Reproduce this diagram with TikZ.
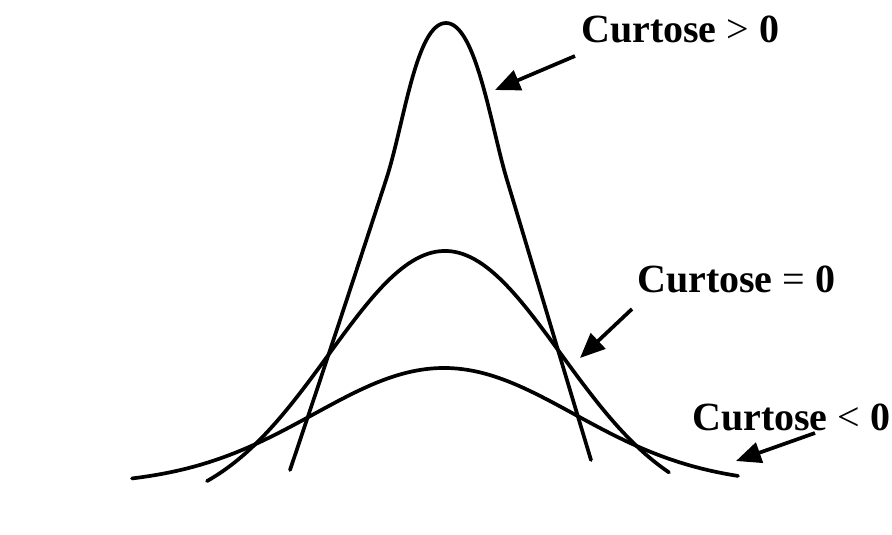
\documentclass[tikz,border=0pt]{standalone}
\usepackage{fontspec}
\setmainfont{Liberation Serif}
\usetikzlibrary{arrows.meta}
\begin{document}
\begin{tikzpicture}[x=1pt,y=-1pt,
  curve/.style={line width=3.7pt,line cap=round,line join=round},
  pointer/.style={line width=3.7pt,-{Triangle[length=25pt,width=21pt]}},
  lbl/.style={anchor=base west,inner sep=0pt,font=\fontsize{40}{44}\selectfont\bfseries}]
\useasboundingbox (0,0) rectangle (892,535);
% tall curve (kurtosis > 0)
\coordinate (tl) at (290,470);
\coordinate (tlm) at (386,180);
\coordinate (tp) at (446,23);
\coordinate (trm) at (507,180);
\coordinate (tr) at (591,460);
\draw[curve] (tl) .. controls (326,363) and (356,272) .. (tlm)
  .. controls (404,125) and (416,23) .. (tp)
  .. controls (476,23) and (491,127) .. (trm)
  .. controls (535,273) and (563,367) .. (tr);
% medium curve (kurtosis = 0)
\draw[curve] plot[domain=207:669,samples=120,variable=\x]
  (\x,{251+262*(1-exp(-0.5*((\x-445)/116)^2))});
% flat curve (kurtosis < 0)
\draw[curve] plot[domain=132:738,samples=120,variable=\x]
  (\x,{368+117*(1-exp(-0.5*((\x-444)/130)^2))});
% labels
\node[lbl] (k1) at (581,43) {Curtose {\mdseries >} 0};
\node[lbl] (k2) at (637,292) {Curtose {\mdseries =} 0};
\node[lbl] (k3) at (692,430) {Curtose {\mdseries <} 0};
% pointers
\coordinate (t1) at (575,56);
\coordinate (h1) at (495,90);
\coordinate (t2) at (632,309);
\coordinate (h2) at (580,358);
\coordinate (t3) at (815,433);
\coordinate (h3) at (736,461);
\draw[pointer] (t1) -- (h1);
\draw[pointer] (t2) -- (h2);
\draw[pointer] (t3) -- (h3);
\end{tikzpicture}
\end{document}
